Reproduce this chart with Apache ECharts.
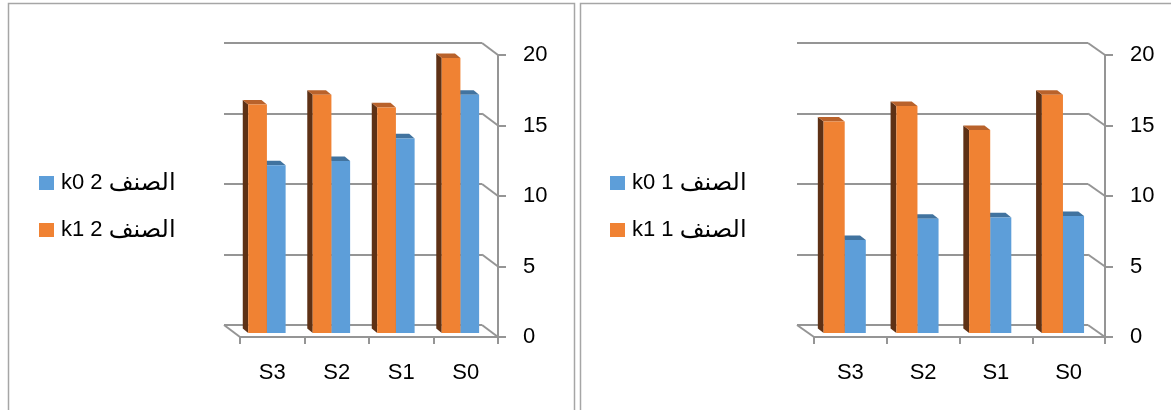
<!DOCTYPE html>
<html>
<head>
<meta charset="utf-8">
<script src="https://cdn.jsdelivr.net/npm/echarts@6/dist/echarts.min.js"></script>
<style>
html, body { margin: 0; padding: 0; background: #fff; }
#chart { width: 1171px; height: 410px; }
</style>
</head>
<body>
<div id="chart"></div>
<script>
// Categories along the floor, drawn right-to-left as S3 .. S0
const categories = ['S3', 'S2', 'S1', 'S0'];
const valueTicks = [0, 5, 10, 15, 20];

// Left panel (group 2)
const group2Names = ['k0 2 الصنف', 'k1 2 الصنف'];
const group2K0 = [11.9, 12.2, 13.8, 16.9];
const group2K1 = [16.2, 16.9, 16.0, 19.5];

// Right panel (group 1)
const group1Names = ['k0 1 الصنف', 'k1 1 الصنف'];
const group1K0 = [6.6, 8.1, 8.2, 8.3];
const group1K1 = [15.0, 16.1, 14.4, 16.9];

const FONT = '"Liberation Sans", Arial, "DejaVu Sans", sans-serif';
const GRID_GRAY = '#959595';

const COLORS = {
  k0: { front: '#5D9ED9', top: '#41739F', side: '#2F577C' },
  k1: { front: '#F08233', top: '#B9622B', side: '#5E3115' }
};

// Panel layout: front plane of the box and the depth offset to the back wall
const panels = [
  { names: group2Names, k0: group2K0, k1: group2K1,
    front: { left: 240, top: 55, width: 258, height: 282 },
    depth: { dx: -16, dy: -12 }, legendLeft: 34 },
  { names: group1Names, k0: group1K0, k1: group1K1,
    front: { left: 814, top: 55, width: 291, height: 282 },
    depth: { dx: -17, dy: -12 }, legendLeft: 605 }
];

// 3D-looking column: front face, top face and left side face
function columnRenderer(depth, side, colors) {
  return function (params, api) {
    const i = api.value(0);
    const v = api.value(1);
    const band = api.size([1, 0])[0];
    const base = api.coord([i, 0]);
    const top = api.coord([i, v]);
    // the column's front face sits a third of the way toward the back wall
    const fx = depth.dx / 3, fy = depth.dy / 3;
    // column thickness (front face to back face)
    const bx = depth.dx * 0.34, by = depth.dy * 0.38;
    const w = band * 0.29;
    const cx = base[0] + fx;
    const x0 = side < 0 ? cx - w : cx;
    const x1 = side < 0 ? cx : cx + w;
    const yb = base[1] + fy;
    const yt = top[1] + fy;
    return {
      type: 'group',
      children: [
        { type: 'polygon',
          shape: { points: [[x0, yt], [x0 + bx, yt + by], [x0 + bx, yb + by], [x0, yb]] },
          style: { fill: colors.side } },
        { type: 'polygon',
          shape: { points: [[x0, yt], [x1, yt], [x1 + bx, yt + by], [x0 + bx, yt + by]] },
          style: { fill: colors.top } },
        { type: 'rect',
          shape: { x: x0, y: yt, width: x1 - x0, height: yb - yt },
          style: { fill: colors.front } }
      ]
    };
  };
}

// Diagonal edges joining the back wall to the front value axis, plus the floor's left edge
function edgeRenderer(depth) {
  return function (params, api) {
    const cs = params.coordSys;
    const t = api.value(1);
    const y = api.coord([0, t])[1];
    const xr = cs.x + cs.width;
    const children = [{
      type: 'line',
      shape: { x1: xr + depth.dx, y1: y + depth.dy, x2: xr, y2: y },
      style: { stroke: GRID_GRAY, lineWidth: 2 }
    }];
    if (t === 0) {
      children.push({
        type: 'line',
        shape: { x1: cs.x + depth.dx, y1: y + depth.dy, x2: cs.x, y2: y },
        style: { stroke: GRID_GRAY, lineWidth: 2 }
      });
    }
    return { type: 'group', children: children };
  };
}

// Legend entry: latin part followed by the Arabic word, drawn a little larger
function legendLabel(name) {
  const cut = name.indexOf('ال');
  return '{l|' + name.slice(0, cut) + '}{a|' + name.slice(cut) + '}';
}

const grid = [], xAxis = [], yAxis = [], series = [], legend = [];

panels.forEach(function (p, k) {
  const backIdx = k * 2, frontIdx = k * 2 + 1;
  grid.push({ left: p.front.left + p.depth.dx, top: p.front.top + p.depth.dy,
              width: p.front.width, height: p.front.height });
  grid.push({ left: p.front.left, top: p.front.top,
              width: p.front.width, height: p.front.height });

  // back wall
  xAxis.push({ type: 'category', gridIndex: backIdx, data: categories, show: false });
  yAxis.push({ type: 'value', gridIndex: backIdx, min: 0, max: 20, interval: 5,
    axisLine: { show: false }, axisTick: { show: false }, axisLabel: { show: false },
    splitLine: { show: true, lineStyle: { color: GRID_GRAY, width: 2 } } });

  // front plane: floor edge with categories, value axis on the right
  xAxis.push({ type: 'category', gridIndex: frontIdx, data: categories,
    axisLine: { show: true, lineStyle: { color: GRID_GRAY, width: 2 } },
    axisTick: { show: true, interval: 0, length: 7, lineStyle: { color: GRID_GRAY, width: 2 } },
    axisLabel: { interval: 0, margin: 25, color: '#000', fontSize: 22, fontFamily: FONT },
    splitLine: { show: false } });
  yAxis.push({ type: 'value', gridIndex: frontIdx, position: 'right', min: 0, max: 20, interval: 5,
    axisLine: { show: true, lineStyle: { color: GRID_GRAY, width: 2 } },
    axisTick: { show: true, length: 8, lineStyle: { color: GRID_GRAY, width: 2 } },
    axisLabel: { margin: 25, color: '#000', fontSize: 22, fontFamily: FONT, padding: [7, 0, 0, 0] },
    splitLine: { show: false } });

  series.push({
    type: 'custom', xAxisIndex: frontIdx, yAxisIndex: frontIdx, silent: true,
    renderItem: edgeRenderer(p.depth),
    data: valueTicks.map(function (t) { return [0, t]; }), z: 1
  });
  series.push({
    name: p.names[0], type: 'custom', xAxisIndex: frontIdx, yAxisIndex: frontIdx,
    itemStyle: { color: COLORS.k0.front },
    renderItem: columnRenderer(p.depth, 1, COLORS.k0),
    data: p.k0.map(function (v, i) { return [i, v]; }), z: 2
  });
  series.push({
    name: p.names[1], type: 'custom', xAxisIndex: frontIdx, yAxisIndex: frontIdx,
    itemStyle: { color: COLORS.k1.front },
    renderItem: columnRenderer(p.depth, -1, COLORS.k1),
    data: p.k1.map(function (v, i) { return [i, v]; }), z: 3
  });

  legend.push({
    data: p.names, orient: 'vertical', left: p.legendLeft, top: 166,
    icon: 'rect', itemWidth: 15, itemHeight: 14, itemGap: 23,
    selectedMode: false,
    formatter: legendLabel,
    textStyle: {
      color: '#000', fontFamily: FONT, padding: [0, 0, 0, 2],
      rich: {
        l: { fontSize: 22, lineHeight: 24, fontFamily: FONT, color: '#000' },
        a: { fontSize: 24, lineHeight: 24, fontFamily: FONT, color: '#000' }
      }
    }
  });
});

const chart = echarts.init(document.getElementById('chart'), null, { renderer: 'canvas' });
chart.setOption({
  animation: false,
  backgroundColor: '#fff',
  grid: grid,
  xAxis: xAxis,
  yAxis: yAxis,
  legend: legend,
  series: series,
  graphic: [
    { type: 'rect', silent: true, shape: { x: 8.5, y: 3.5, width: 566, height: 480 },
      style: { fill: 'none', stroke: '#a6a6a6', lineWidth: 1.5 } },
    { type: 'rect', silent: true, shape: { x: 580.5, y: 3.5, width: 700, height: 480 },
      style: { fill: 'none', stroke: '#a6a6a6', lineWidth: 1.5 } }
  ]
});
</script>
</body>
</html>
